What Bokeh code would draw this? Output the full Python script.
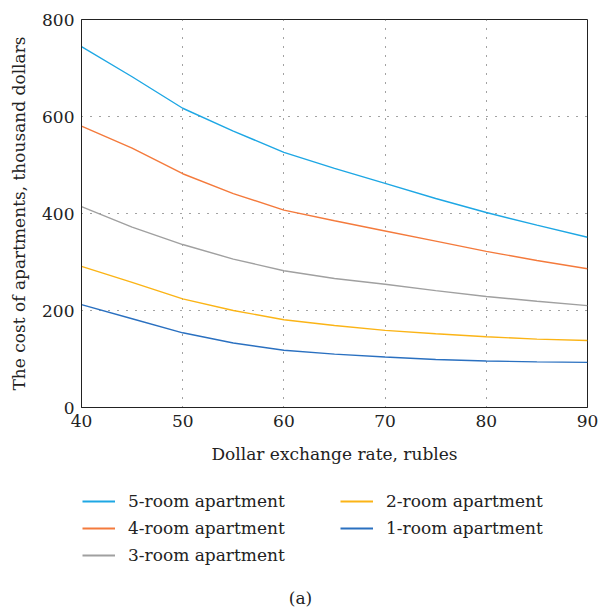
from bokeh.plotting import figure
from bokeh.models import Legend, LegendItem, Range1d, FixedTicker, Label
from bokeh.layouts import column
from bokeh.embed import file_html
from bokeh.resources import INLINE

rate = [40, 45, 50, 55, 60, 65, 70, 75, 80, 85, 90]
room5 = [744, 682, 617, 570, 526, 493, 462, 431, 402, 376, 351]
room4 = [580, 535, 482, 441, 407, 385, 364, 343, 322, 303, 286]
room3 = [414, 372, 336, 306, 282, 266, 254, 241, 229, 219, 210]
room2 = [291, 258, 224, 200, 181, 169, 159, 152, 146, 141, 138]
room1 = [212, 183, 154, 133, 118, 110, 104, 99, 96, 94, 93]

names = ["5-room apartment", "4-room apartment", "3-room apartment",
         "2-room apartment", "1-room apartment"]
values = [room5, room4, room3, room2, room1]
colors = ["#1ea7e4", "#f47a3c", "#a0a0a0", "#fbb416", "#2a70c0"]

x_ticks = [40, 50, 60, 70, 80, 90]
y_ticks = [0, 200, 400, 600, 800]

FONT = "DejaVu Serif"
FS = "17px"
TXT = "#222222"

p = figure(width=599, height=487, output_backend="svg", toolbar_location=None,
           x_range=Range1d(40, 90), y_range=Range1d(0, 800),
           min_border_left=81, min_border_right=12, min_border_top=19, min_border_bottom=80)
p.background_fill_color = "white"
p.border_fill_color = "white"
p.outline_line_color = TXT
p.outline_line_width = 1

for name, vals, col in zip(names, values, colors):
    p.line(rate, vals, line_color=col, line_width=1.4)

for ax in (p.xaxis[0], p.yaxis[0]):
    ax.major_label_text_font = FONT
    ax.major_label_text_font_size = FS
    ax.major_label_text_color = TXT
    ax.axis_label_text_font = FONT
    ax.axis_label_text_font_size = FS
    ax.axis_label_text_font_style = "normal"
    ax.axis_label_text_color = TXT
    ax.major_tick_in = 0
    ax.major_tick_out = 0
    ax.minor_tick_in = 0
    ax.minor_tick_out = 0
    ax.axis_line_color = TXT
    ax.major_label_standoff = 7

p.xaxis[0].ticker = FixedTicker(ticks=x_ticks)
p.yaxis[0].ticker = FixedTicker(ticks=y_ticks)
p.xaxis[0].axis_label = "Dollar exchange rate, rubles"
p.yaxis[0].axis_label = "The cost of apartments, thousand dollars"
p.xaxis[0].axis_label_standoff = 14
p.yaxis[0].axis_label_standoff = 10

for g in (p.xgrid[0], p.ygrid[0]):
    g.grid_line_color = "#444444"
    g.grid_line_dash = "1 8"
    g.grid_line_width = 1

# legend + caption panel
q = figure(width=599, height=125, output_backend="svg", toolbar_location=None,
           x_range=Range1d(0, 1), y_range=Range1d(0, 1),
           x_axis_type=None, y_axis_type=None,
           min_border_left=81, min_border_right=12, min_border_top=0, min_border_bottom=0)
q.outline_line_color = None
q.xgrid.visible = False
q.ygrid.visible = False

items = []
for name, col in zip(names, colors):
    r = q.line([-5, -4], [-5, -5], line_color=col, line_width=1.8)
    items.append(LegendItem(label=name, renderers=[r]))

legend = Legend(items=items, orientation="vertical", nrows=3,
                location=(1, 47), border_line_color=None,
                background_fill_alpha=0, label_text_font=FONT,
                label_text_font_size=FS, label_text_color=TXT,
                glyph_width=33, glyph_height=20, label_height=20,
                label_standoff=13, label_width=205, spacing=7,
                padding=0, margin=0)
q.add_layout(legend, "center")

cap = Label(x=219, y=15, x_units="screen", y_units="screen", text="(a)",
            text_font=FONT, text_font_size=FS, text_color=TXT,
            text_align="center", text_baseline="middle")
q.add_layout(cap)

open("out.html", "w").write(file_html(column(p, q, spacing=0), INLINE))
